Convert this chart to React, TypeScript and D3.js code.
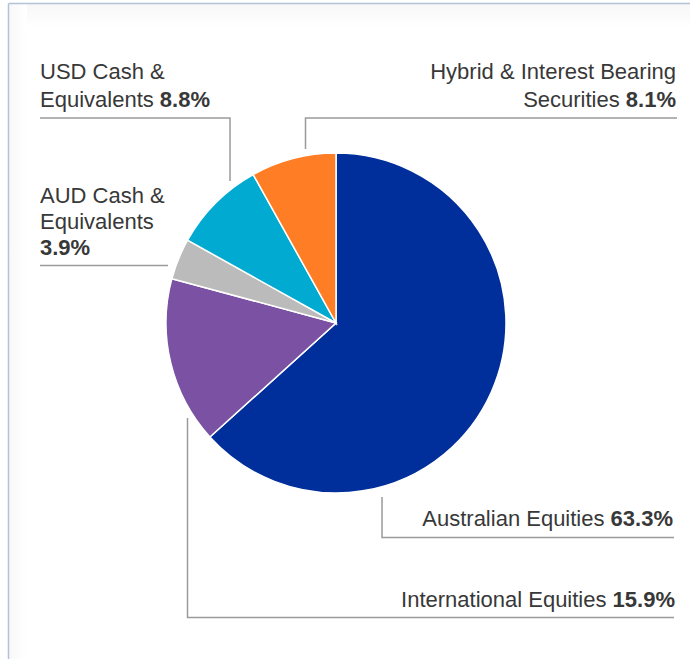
import React from "react";
import * as d3 from "d3";

const categories = [
  "Australian Equities",
  "International Equities",
  "AUD Cash & Equivalents",
  "USD Cash & Equivalents",
  "Hybrid & Interest Bearing Securities",
];
const values = [63.3, 15.9, 3.9, 8.8, 8.1];
const colors = ["#002f9b", "#7a51a3", "#bbbbbb", "#00aad0", "#ff7d24"];

const W = 690;
const H = 659;
const cx = 336;
const cy = 323;
const R = 170;

export default function App() {
  const pie = d3.pie<number>().sort(null).value((d) => d)(values);
  const arc = d3.arc<d3.PieArcDatum<number>>().innerRadius(0).outerRadius(R);
  const fontFamily = "'Liberation Sans', Arial, Helvetica, sans-serif";
  const lineColor = "#9a9a9a";
  const textColor = "#383838";
  const fs = 22;
  const pct = (i: number) => `${values[i].toFixed(1)}%`;

  return (
    <svg
      width={W}
      height={H}
      style={{ position: "absolute", left: 0, top: 0, background: "#fff" }}
      fontFamily={fontFamily}
    >
      <defs>
        <linearGradient id="topShade" x1="0" y1="0" x2="0" y2="1">
          <stop offset="0" stopColor="#f7f7f7" />
          <stop offset="1" stopColor="#ffffff" />
        </linearGradient>
        <linearGradient id="leftShade" x1="0" y1="0" x2="1" y2="0">
          <stop offset="0" stopColor="#f8f8f8" />
          <stop offset="1" stopColor="#ffffff" />
        </linearGradient>
      </defs>
      <rect x={9} y={4} width={W - 9} height={24} fill="url(#topShade)" />
      <rect x={9} y={4} width={18} height={H - 4} fill="url(#leftShade)" />
      <line x1={8.5} y1={3.5} x2={W} y2={3.5} stroke="#b4c2d8" strokeWidth={1.5} />
      <line x1={8.5} y1={3.5} x2={8.5} y2={H} stroke="#b4c2d8" strokeWidth={1.5} />

      <g transform={`translate(${cx},${cy})`}>
        {pie.map((p, i) => (
          <path
            key={categories[i]}
            d={arc(p) || ""}
            fill={colors[i]}
            stroke="#ffffff"
            strokeWidth={1.5}
          />
        ))}
      </g>

      <g fill="none" stroke={lineColor} strokeWidth={1.5}>
        <polyline points="40,118 230,118 230,181" />
        <polyline points="677,118 305.5,118 305.5,149" />
        <line x1={40} y1={265.5} x2={168} y2={265.5} />
        <polyline points="382,497 382,537.5 674,537.5" />
        <polyline points="187.5,418 187.5,617.5 674,617.5" />
      </g>

      <g fill={textColor} fontSize={fs}>
        <text x={40} y={79}>USD Cash &amp;</text>
        <text x={40} y={107}>
          Equivalents <tspan fontWeight="bold">{pct(3)}</tspan>
        </text>

        <text x={676} y={79} textAnchor="end">Hybrid &amp; Interest Bearing</text>
        <text x={676} y={107} textAnchor="end">
          Securities <tspan fontWeight="bold">{pct(4)}</tspan>
        </text>

        <text x={40} y={203}>AUD Cash &amp;</text>
        <text x={40} y={229}>Equivalents</text>
        <text x={40} y={255} fontWeight="bold">{pct(2)}</text>

        <text x={673} y={526} textAnchor="end">
          Australian Equities <tspan fontWeight="bold">{pct(0)}</tspan>
        </text>
        <text x={675} y={607} textAnchor="end">
          International Equities <tspan fontWeight="bold">{pct(1)}</tspan>
        </text>
      </g>
    </svg>
  );
}
